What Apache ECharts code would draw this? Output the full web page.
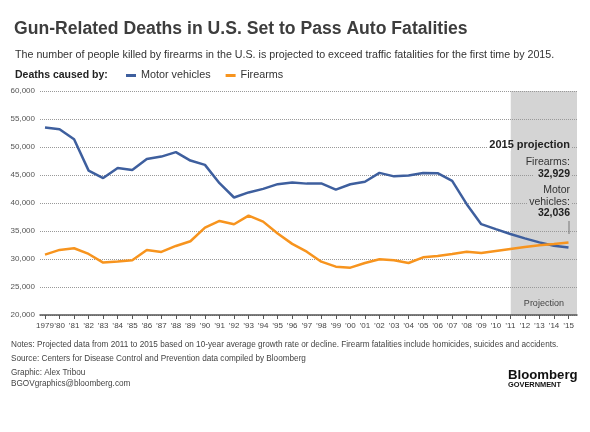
<!DOCTYPE html>
<html><head><meta charset="utf-8">
<script src="https://cdn.jsdelivr.net/npm/echarts@6/dist/echarts.min.js"></script>
<style>html,body{margin:0;padding:0;background:#fff}#c{width:590px;height:432px}</style>
</head><body><div id="c"></div>
<script>
var years = ['1979','\u201980','\u201981','\u201982','\u201983','\u201984','\u201985','\u201986','\u201987','\u201988','\u201989','\u201990','\u201991','\u201992','\u201993','\u201994','\u201995','\u201996','\u201997','\u201998','\u201999','\u201900','\u201901','\u201902','\u201903','\u201904','\u201905','\u201906','\u201907','\u201908','\u201909','\u201910','\u201911','\u201912','\u201913','\u201914','\u201915'];
var motorVehicles = [53500,53170,51380,45780,44450,46260,45900,47860,48290,49080,47580,46810,43540,40980,41890,42520,43360,43650,43460,43500,42400,43350,43790,45380,44760,44930,45340,45320,43950,39790,36220,35330,34460,33690,32970,32380,32036];
var firearms = [30790,31620,31920,30900,29360,29540,29770,31620,31260,32330,33170,35610,36800,36200,37750,36680,34540,32700,31310,29520,28630,28450,29290,29940,29760,29290,30300,30540,30890,31310,31070,31430,31790,32140,32440,32680,32929];
var projectionStart = 2011;
var yTicks = {min: 20000, max: 60000, step: 5000};

var FONT = "'Liberation Sans', Arial, Helvetica, sans-serif";
var chart = echarts.init(document.getElementById('c'));
function fmt(v){return v.toLocaleString('en-US');}
chart.setOption({
  animation: false,
  textStyle: {fontFamily: FONT},
  title: [
    {text: 'Gun-Related Deaths in U.S. Set to Pass Auto Fatalities', left: 9, top: 15,
     textStyle: {fontFamily: FONT, fontSize: 17.6, fontWeight: 'bold', color: '#3d3d3d'}},
    {text: 'The number of people killed by firearms in the U.S. is projected to exceed traffic fatalities for the first time by 2015.', left: 10, top: 45,
     textStyle: {fontFamily: FONT, fontSize: 10.7, fontWeight: 'normal', color: '#333'}},
    {text: 'Deaths caused by:', left: 10, top: 65,
     textStyle: {fontFamily: FONT, fontSize: 10.5, fontWeight: 'bold', color: '#222'}}
  ],
  legend: {
    left: 121, top: 65, itemWidth: 10, itemHeight: 3, itemGap: 15, icon: 'rect',
    textStyle: {fontFamily: FONT, fontSize: 10.8, color: '#333'},
    data: ['Motor vehicles', 'Firearms']
  },
  grid: [
    {left: 45, right: 21.5, top: 91, bottom: 117},
    {left: 40, right: 13, top: 91, bottom: 117}
  ],
  xAxis: [
    {type: 'category', gridIndex: 0, data: years, boundaryGap: false,
     axisLine: {show: false},
     axisTick: {show: true, length: 4, lineStyle: {color: '#555'}},
     axisLabel: {interval: 0, fontSize: 8, color: '#444', margin: 7, fontFamily: FONT},
     splitLine: {show: false}, z: 4},
    {type: 'value', gridIndex: 1, min: 1978.66, max: 2015.55,
     axisLine: {show: true, lineStyle: {color: '#555', width: 1.5}},
     axisTick: {show: false}, axisLabel: {show: false}, splitLine: {show: false}, z: 3}
  ],
  yAxis: [
    {type: 'value', gridIndex: 0, min: yTicks.min, max: yTicks.max, interval: yTicks.step, show: false},
    {type: 'value', gridIndex: 1, min: yTicks.min, max: yTicks.max, interval: yTicks.step,
     axisLine: {show: false}, axisTick: {show: false},
     axisLabel: {fontSize: 8, color: '#555', margin: 5, fontFamily: FONT, formatter: fmt},
     splitLine: {show: true, lineStyle: {color: '#999', type: [1, 1], width: 1}}, z: 3}
  ],
  series: [
    {type: 'line', xAxisIndex: 1, yAxisIndex: 1, data: [[projectionStart, yTicks.min]], showSymbol: false,
     lineStyle: {opacity: 0}, z: 1, silent: true,
     markArea: {silent: true, itemStyle: {color: '#d4d4d4'},
       label: {show: true, position: 'insideBottom', distance: 7, color: '#444', fontSize: 9, fontFamily: FONT},
       data: [[{name: 'Projection', xAxis: projectionStart, yAxis: yTicks.max}, {xAxis: 2015.55, yAxis: yTicks.min}]]}},
    {name: 'Motor vehicles', type: 'line', xAxisIndex: 0, yAxisIndex: 0, data: motorVehicles,
     showSymbol: false, symbol: 'none', z: 6, lineStyle: {color: '#3e5f9e', width: 2.5}, itemStyle: {color: '#3e5f9e'}},
    {name: 'Firearms', type: 'line', xAxisIndex: 0, yAxisIndex: 0, data: firearms,
     showSymbol: false, symbol: 'none', z: 6, lineStyle: {color: '#f7941e', width: 2.5}, itemStyle: {color: '#f7941e'}}
  ],
  graphic: [
    {type: 'rect', shape: {x: 487, y: 140, width: 24, height: 11}, style: {fill: '#fff'}, z: 10, silent: true},
    {type: 'rect', shape: {x: 511, y: 140, width: 61, height: 11}, style: {fill: '#d4d4d4'}, z: 10, silent: true},
    {type: 'rect', shape: {x: 533, y: 170, width: 39, height: 10}, style: {fill: '#d4d4d4'}, z: 10, silent: true},
    {type: 'rect', shape: {x: 527, y: 197, width: 45, height: 11}, style: {fill: '#d4d4d4'}, z: 10, silent: true},
    {type: 'text', right: 20, top: 139, z: 11, style: {text: '2015 projection', font: 'bold 11px ' + FONT, fill: '#222', textAlign: 'right'}},
    {type: 'text', right: 20, top: 157, z: 11, style: {text: 'Firearms:', font: '10.5px ' + FONT, fill: '#333', textAlign: 'right'}},
    {type: 'text', right: 20, top: 169, z: 11, style: {text: '32,929', font: 'bold 10.5px ' + FONT, fill: '#222', textAlign: 'right'}},
    {type: 'text', right: 20, top: 185, z: 11, style: {text: 'Motor', font: '10.5px ' + FONT, fill: '#333', textAlign: 'right'}},
    {type: 'text', right: 20, top: 197, z: 11, style: {text: 'vehicles:', font: '10.5px ' + FONT, fill: '#333', textAlign: 'right'}},
    {type: 'text', right: 20, top: 208, z: 11, style: {text: '32,036', font: 'bold 10.5px ' + FONT, fill: '#222', textAlign: 'right'}},
    {type: 'line', shape: {x1: 569, y1: 221, x2: 569, y2: 234}, style: {stroke: '#777', lineWidth: 1}, z: 11},
    {type: 'text', left: 11, top: 341, style: {text: 'Notes: Projected data from 2011 to 2015 based on 10-year average growth rate or decline. Firearm fatalities include homicides, suicides and accidents.', font: '8.2px ' + FONT, fill: '#444'}},
    {type: 'text', left: 11, top: 355, style: {text: 'Source: Centers for Disease Control and Prevention data compiled by Bloomberg', font: '8.2px ' + FONT, fill: '#444'}},
    {type: 'text', left: 11, top: 369, style: {text: 'Graphic: Alex Tribou', font: '8.2px ' + FONT, fill: '#444'}},
    {type: 'text', left: 11, top: 380, style: {text: 'BGOVgraphics@bloomberg.com', font: '8.2px ' + FONT, fill: '#444'}},
    {type: 'text', left: 508, top: 369, style: {text: 'Bloomberg', font: 'bold 13.2px ' + FONT, fill: '#111'}},
    {type: 'text', left: 508, top: 381, style: {text: 'GOVERNMENT', font: 'bold 7.4px ' + FONT, fill: '#111'}}
  ]
});
</script></body></html>
